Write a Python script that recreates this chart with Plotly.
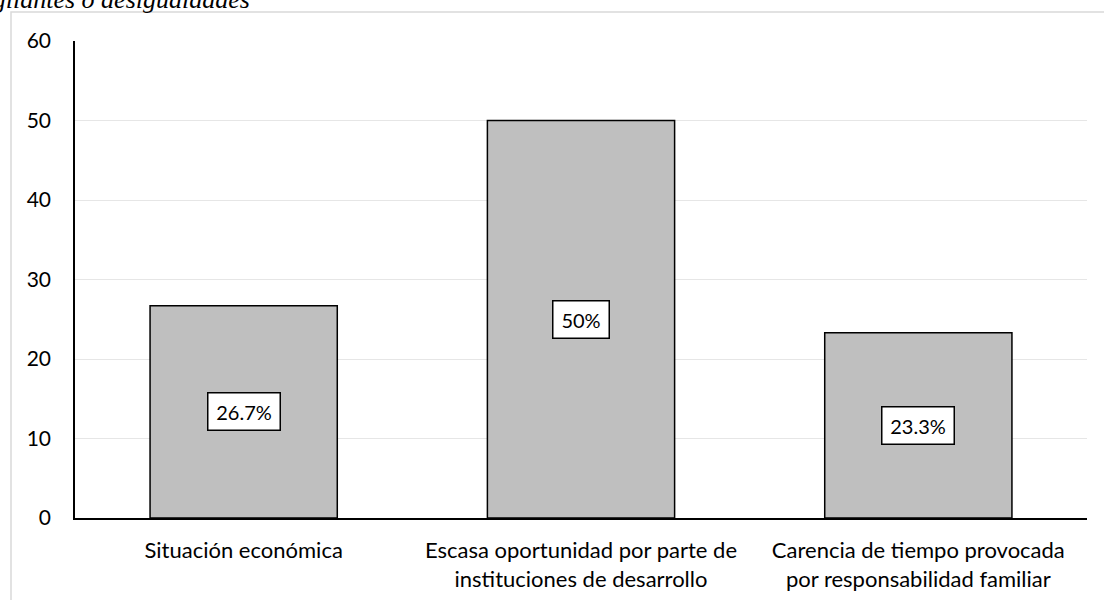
import plotly.graph_objects as go

# datos del gráfico
categorias = [
    "Situación económica",
    "Escasa oportunidad por parte de<br>instituciones de desarrollo",
    "Carencia de tiempo provocada<br>por responsabilidad familiar",
]
valores = [26.7, 50, 23.3]
etiquetas = ["26.7%", "50%", "23.3%"]
y_ticks = [0, 10, 20, 30, 40, 50, 60]

W, H = 1104, 600
L, R, T, B = 75, 17, 41, 82
plot_w = W - L - R
plot_h = H - T - B

fig = go.Figure()

fig.add_trace(go.Bar(
    x=categorias,
    y=valores,
    width=0.555,
    marker=dict(color="#bfbfbf", line=dict(color="black", width=1.5)),
    hoverinfo="x+y",
    showlegend=False,
))

# etiquetas de datos en cuadro blanco, centradas en la barra
for cat, val, txt in zip(categorias, valores, etiquetas):
    fig.add_annotation(
        x=cat, y=val / 2, text=txt, showarrow=False,
        font=dict(family="Lato", size=20, color="black"),
        width=len(txt) * 8 + 19,
        bgcolor="white", bordercolor="black", borderwidth=1.5, borderpad=6,
    )

# marco del área del gráfico (recortado a la derecha y abajo)
fig.add_shape(
    type="rect", xref="paper", yref="paper",
    x0=(11 - L) / plot_w, x1=1.2,
    y0=-0.5, y1=1 + (T - 12) / plot_h,
    line=dict(color="#d9d9d9", width=1.5), fillcolor="rgba(0,0,0,0)",
    layer="below",
)

# título cortado en la parte superior
fig.add_annotation(
    xref="paper", yref="paper",
    x=(252 - L) / plot_w, y=1 + (T - 16) / plot_h,
    xanchor="right", yanchor="bottom",
    text="<i>vigilantes o desigualdades</i>", showarrow=False,
    font=dict(family="Liberation Serif", size=26, color="black"),
)

fig.update_xaxes(
    showline=True, linecolor="black", linewidth=2,
    showgrid=False, zeroline=False,
    tickfont=dict(family="Lato", size=22, color="black"),
    ticks="", ticklabelstandoff=12,
)
fig.update_yaxes(
    range=[0, 60], tickvals=y_ticks,
    showline=True, linecolor="black", linewidth=1.5,
    showgrid=True, gridcolor="#e6e6e6", gridwidth=1,
    zeroline=False,
    tickfont=dict(family="Lato", size=21, color="black"),
    ticks="", ticklabelstandoff=18,
)

fig.update_layout(
    width=W, height=H,
    margin=dict(l=L, r=R, t=T, b=B, autoexpand=False),
    plot_bgcolor="white", paper_bgcolor="white",
    bargap=0.445,
)

# sin margen del body para que la figura ocupe la ventana exacta
fig.write_html("out.html", config={"displayModeBar": False},
               post_script="document.body.style.margin='0';")
